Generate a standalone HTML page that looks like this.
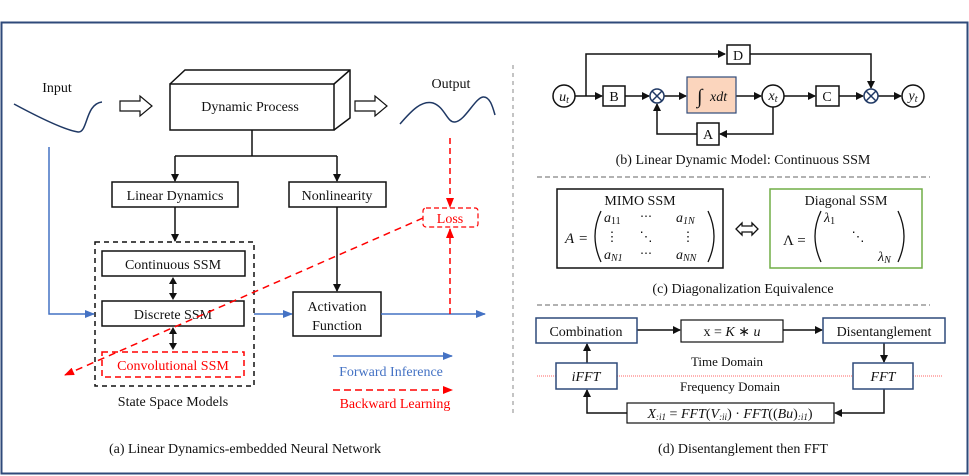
<!DOCTYPE html>
<html><head><meta charset="utf-8"><style>
html,body{margin:0;padding:0;background:#fff}
svg{display:block}
text{font-family:"Liberation Serif",serif;fill:#111}
.m{font-style:italic}
</style></head><body>
<svg width="969" height="476" viewBox="0 0 969 476" xmlns="http://www.w3.org/2000/svg">
<defs>
<marker id="ak" markerWidth="8" markerHeight="8" refX="7" refY="4" orient="auto" markerUnits="userSpaceOnUse"><path d="M0,0 L8,4 L0,8 z" fill="#111"/></marker>
<marker id="ab" markerWidth="10" markerHeight="8" refX="9" refY="4" orient="auto" markerUnits="userSpaceOnUse"><path d="M0,0 L10,4 L0,8 z" fill="#4472c4"/></marker>
<marker id="ar" markerWidth="10" markerHeight="8" refX="9" refY="4" orient="auto" markerUnits="userSpaceOnUse"><path d="M0,0 L10,4 L0,8 z" fill="#ff0000"/></marker>
</defs>
<rect x="1.5" y="22.5" width="966" height="451" fill="none" stroke="#2f4a7a" stroke-width="2"/>
<line x1="513" y1="65" x2="513" y2="415" stroke="#888" stroke-width="1" stroke-dasharray="4,4"/>

<!-- Panel a -->
<text x="57" y="92" font-size="14" text-anchor="middle">Input</text>
<path d="M14,104 C40,118 65,130 78,132 C88,133 85,104 102,102" fill="none" stroke="#1f3864" stroke-width="1.5"/>
<path d="M120,101 H140 V96 L152,106 L140,116 V111 H120 z" fill="#fff" stroke="#111" stroke-width="1.2"/>
<path d="M170,84 L185,70 H350 V118 L334,130" fill="none" stroke="#111" stroke-width="1.5"/>
<line x1="334" y1="84" x2="350" y2="70" stroke="#111" stroke-width="1.5"/>
<rect x="170" y="84" width="164" height="46" fill="#fff" stroke="#111" stroke-width="1.5"/>
<text x="250" y="111" font-size="14" text-anchor="middle">Dynamic Process</text>
<path d="M355,101 H375 V96 L387,106 L375,116 V111 H355 z" fill="#fff" stroke="#111" stroke-width="1.2"/>
<text x="451" y="88" font-size="14" text-anchor="middle">Output</text>
<path d="M400,124 C412,110 422,100 433,103 C445,107 447,123 455,122 C465,121 475,98 483,97 C490,96 493,108 495,115" fill="none" stroke="#1f3864" stroke-width="1.5"/>
<path d="M252,130 V156 M175,156 H337" stroke="#111" stroke-width="1.5" fill="none"/>
<line x1="175" y1="156" x2="175" y2="181" stroke="#111" stroke-width="1.5" marker-end="url(#ak)"/>
<line x1="337" y1="156" x2="337" y2="181" stroke="#111" stroke-width="1.5" marker-end="url(#ak)"/>
<rect x="112" y="182" width="126" height="25" fill="#fff" stroke="#111" stroke-width="1.5"/>
<text x="175" y="200" font-size="14" text-anchor="middle">Linear Dynamics</text>
<rect x="289" y="182" width="97" height="25" fill="#fff" stroke="#111" stroke-width="1.5"/>
<text x="337" y="200" font-size="14" text-anchor="middle">Nonlinearity</text>
<line x1="175" y1="207" x2="175" y2="241" stroke="#111" stroke-width="1.5" marker-end="url(#ak)"/>
<rect x="95" y="242" width="159" height="144" fill="none" stroke="#111" stroke-width="1.5" stroke-dasharray="5,4"/>
<rect x="102" y="251" width="143" height="25" fill="#fff" stroke="#111" stroke-width="1.5"/>
<text x="173" y="269" font-size="14" text-anchor="middle">Continuous SSM</text>
<rect x="102" y="301" width="142" height="25" fill="#fff" stroke="#111" stroke-width="1.5"/>
<text x="173" y="319" font-size="14" text-anchor="middle">Discrete SSM</text>
<g fill="#111" stroke="#111" stroke-width="1.5">
<line x1="173" y1="280" x2="173" y2="297"/><path d="M169,284 L173,277 L177,284 z M169,293 L173,300 L177,293 z" stroke="none"/>
<line x1="173" y1="330" x2="173" y2="347"/><path d="M169,334 L173,327 L177,334 z M169,343 L173,350 L177,343 z" stroke="none"/>
</g>
<rect x="102" y="352" width="142" height="25" fill="none" stroke="#ff0000" stroke-width="1.5" stroke-dasharray="6,4"/>
<text x="173" y="370" font-size="14" text-anchor="middle" style="fill:#ff0000">Convolutional SSM</text>
<text x="173" y="406" font-size="14" text-anchor="middle">State Space Models</text>
<path d="M49,147 V314 H94" fill="none" stroke="#4472c4" stroke-width="1.5" marker-end="url(#ab)"/>
<line x1="254" y1="314" x2="292" y2="314" stroke="#4472c4" stroke-width="1.5" marker-end="url(#ab)"/>
<line x1="337" y1="207" x2="337" y2="291" stroke="#111" stroke-width="1.5" marker-end="url(#ak)"/>
<rect x="293" y="292" width="88" height="44" fill="#fff" stroke="#111" stroke-width="1.5"/>
<text x="337" y="311" font-size="14" text-anchor="middle">Activation</text>
<text x="337" y="330" font-size="14" text-anchor="middle">Function</text>
<line x1="381" y1="314" x2="485" y2="314" stroke="#4472c4" stroke-width="1.5" marker-end="url(#ab)"/>
<line x1="450" y1="314" x2="450" y2="229" stroke="#ff0000" stroke-width="1.5" stroke-dasharray="6,4" marker-end="url(#ar)"/>
<line x1="450" y1="138" x2="450" y2="207" stroke="#ff0000" stroke-width="1.5" stroke-dasharray="6,4" marker-end="url(#ar)"/>
<rect x="423" y="208" width="55" height="19" rx="3" fill="#fff" stroke="#ff0000" stroke-width="1.2" stroke-dasharray="5,3"/>
<text x="450" y="223" font-size="14" text-anchor="middle" style="fill:#ff0000">Loss</text>
<line x1="423" y1="218" x2="65" y2="375" stroke="#ff0000" stroke-width="1.5" stroke-dasharray="7,5" marker-end="url(#ar)"/>
<line x1="333" y1="356" x2="452" y2="356" stroke="#4472c4" stroke-width="1.5" marker-end="url(#ab)"/>
<text x="391" y="376" font-size="14" text-anchor="middle" style="fill:#4472c4">Forward Inference</text>
<line x1="333" y1="390" x2="452" y2="390" stroke="#ff0000" stroke-width="1.5" stroke-dasharray="7,4" marker-end="url(#ar)"/>
<text x="395" y="408" font-size="14" text-anchor="middle" style="fill:#ff0000">Backward Learning</text>
<text x="245" y="453" font-size="14" text-anchor="middle">(a) Linear Dynamics-embedded Neural Network</text>

<!-- Panel b -->
<g stroke="#111" stroke-width="1.5" fill="none">
<line x1="575" y1="96" x2="602" y2="96" marker-end="url(#ak)"/>
<path d="M586,96 V54 H725" marker-end="url(#ak)"/>
<path d="M750,54 H871 V88" marker-end="url(#ak)"/>
<line x1="625" y1="96" x2="649" y2="96" marker-end="url(#ak)"/>
<line x1="664" y1="96" x2="686" y2="96" marker-end="url(#ak)"/>
<line x1="736" y1="96" x2="761" y2="96" marker-end="url(#ak)"/>
<line x1="784" y1="96" x2="815" y2="96" marker-end="url(#ak)"/>
<line x1="839" y1="96" x2="863" y2="96" marker-end="url(#ak)"/>
<line x1="878" y1="96" x2="901" y2="96" marker-end="url(#ak)"/>
<path d="M773,107 V134 H720" marker-end="url(#ak)"/>
<path d="M697,134 H657 V104" marker-end="url(#ak)"/>
</g>
<circle cx="564" cy="96" r="11" fill="#fff" stroke="#111" stroke-width="1.5"/>
<text x="564" y="101" font-size="14" text-anchor="middle" class="m">u<tspan font-size="10" dy="2">t</tspan></text>
<rect x="603" y="86" width="22" height="20" fill="#fff" stroke="#111" stroke-width="1.5"/>
<text x="614" y="101" font-size="14" text-anchor="middle">B</text>
<rect x="727" y="45" width="23" height="19" fill="#fff" stroke="#111" stroke-width="1.5"/>
<text x="738" y="60" font-size="14" text-anchor="middle">D</text>
<g stroke="#1f3864" stroke-width="1.5" fill="#fff">
<circle cx="657" cy="96" r="7"/><path d="M652,91 L662,101 M662,91 L652,101"/>
<circle cx="871" cy="96" r="7"/><path d="M866,91 L876,101 M876,91 L866,101"/>
</g>
<rect x="687" y="77" width="49" height="36" fill="#fbd5bd" stroke="#2f4a7a" stroke-width="1.2"/>
<text x="697" y="103" font-size="20" class="m">∫</text>
<text x="710" y="101" font-size="14" class="m">xdt</text>
<circle cx="773" cy="96" r="11" fill="#fff" stroke="#111" stroke-width="1.5"/>
<text x="773" y="100" font-size="14" text-anchor="middle" class="m">x<tspan font-size="10" dy="2">t</tspan></text>
<rect x="816" y="86" width="23" height="20" fill="#fff" stroke="#111" stroke-width="1.5"/>
<text x="827" y="101" font-size="14" text-anchor="middle">C</text>
<circle cx="913" cy="96" r="11" fill="#fff" stroke="#111" stroke-width="1.5"/>
<text x="913" y="100" font-size="14" text-anchor="middle" class="m">y<tspan font-size="10" dy="2">t</tspan></text>
<rect x="697" y="123" width="22" height="22" fill="#fff" stroke="#111" stroke-width="1.5"/>
<text x="708" y="139" font-size="14" text-anchor="middle">A</text>
<text x="743" y="164" font-size="14" text-anchor="middle">(b) Linear Dynamic Model: Continuous SSM</text>
<line x1="537" y1="177" x2="930" y2="177" stroke="#666" stroke-width="1" stroke-dasharray="5,3"/>

<!-- Panel c -->
<rect x="557" y="189" width="166" height="79" fill="none" stroke="#111" stroke-width="1.5"/>
<text x="640" y="205" font-size="14" text-anchor="middle">MIMO SSM</text>
<text x="565" y="243" font-size="15" class="m">A</text><text x="579" y="243" font-size="15">=</text>
<path d="M601,211 Q589,236 601,262" fill="none" stroke="#111" stroke-width="1.3"/>
<path d="M708,211 Q720,236 708,262" fill="none" stroke="#111" stroke-width="1.3"/>
<text x="604" y="222" font-size="14" class="m">a<tspan font-size="10" dy="2" font-style="normal">11</tspan></text>
<text x="646" y="220" font-size="12" text-anchor="middle">⋯</text>
<text x="676" y="222" font-size="14" class="m">a<tspan font-size="10" dy="2">1N</tspan></text>
<text x="612" y="241" font-size="13" text-anchor="middle">⋮</text>
<text x="646" y="241" font-size="13" text-anchor="middle">⋱</text>
<text x="688" y="241" font-size="13" text-anchor="middle">⋮</text>
<text x="604" y="259" font-size="14" class="m">a<tspan font-size="10" dy="2">N1</tspan></text>
<text x="646" y="257" font-size="12" text-anchor="middle">⋯</text>
<text x="676" y="259" font-size="14" class="m">a<tspan font-size="10" dy="2">NN</tspan></text>
<path d="M736,229 L742,223 V226 H752 V223 L758,229 L752,235 V232 H742 V235 z" fill="#fff" stroke="#111" stroke-width="1.3"/>
<rect x="770" y="189" width="152" height="79" fill="none" stroke="#70ad47" stroke-width="1.5"/>
<text x="846" y="205" font-size="14" text-anchor="middle">Diagonal SSM</text>
<text x="783" y="245" font-size="15">Λ =</text>
<path d="M821,211 Q809,236 821,262" fill="none" stroke="#111" stroke-width="1.3"/>
<path d="M898,211 Q910,236 898,262" fill="none" stroke="#111" stroke-width="1.3"/>
<text x="824" y="222" font-size="14" class="m">λ<tspan font-size="10" dy="2" font-style="normal">1</tspan></text>
<text x="858" y="241" font-size="13" text-anchor="middle">⋱</text>
<text x="878" y="261" font-size="14" class="m">λ<tspan font-size="10" dy="2">N</tspan></text>
<text x="743" y="293" font-size="14" text-anchor="middle">(c) Diagonalization Equivalence</text>
<line x1="537" y1="305" x2="930" y2="305" stroke="#666" stroke-width="1" stroke-dasharray="5,3"/>

<!-- Panel d -->
<line x1="537" y1="376" x2="943" y2="376" stroke="#ff6666" stroke-width="1" stroke-dasharray="1,1"/>
<g stroke="#111" stroke-width="1.5" fill="none">
<line x1="637" y1="330" x2="680" y2="330" marker-end="url(#ak)"/>
<line x1="783" y1="330" x2="822" y2="330" marker-end="url(#ak)"/>
<line x1="884" y1="343" x2="884" y2="362" marker-end="url(#ak)"/>
<path d="M884,389 V413 H835" marker-end="url(#ak)"/>
<path d="M627,413 H587 V390" marker-end="url(#ak)"/>
<line x1="587" y1="363" x2="587" y2="344" marker-end="url(#ak)"/>
</g>
<rect x="536" y="318" width="101" height="25" fill="#fff" stroke="#2f4a7a" stroke-width="1.5"/>
<text x="586" y="336" font-size="14" text-anchor="middle">Combination</text>
<rect x="681" y="320" width="102" height="22" fill="#fff" stroke="#111" stroke-width="1.2"/>
<text x="732" y="336" font-size="14" text-anchor="middle">x = <tspan class="m">K</tspan> ∗ <tspan class="m">u</tspan></text>
<rect x="823" y="318" width="122" height="25" fill="#fff" stroke="#2f4a7a" stroke-width="1.5"/>
<text x="884" y="336" font-size="14" text-anchor="middle">Disentanglement</text>
<rect x="556" y="363" width="61" height="26" fill="#fff" stroke="#2f4a7a" stroke-width="1.5"/>
<text x="586" y="381" font-size="14" text-anchor="middle" class="m">iFFT</text>
<rect x="853" y="363" width="60" height="26" fill="#fff" stroke="#2f4a7a" stroke-width="1.5"/>
<text x="883" y="381" font-size="14" text-anchor="middle" class="m">FFT</text>
<text x="727" y="366" font-size="13" text-anchor="middle">Time Domain</text>
<text x="730" y="391" font-size="13" text-anchor="middle">Frequency Domain</text>
<rect x="627" y="403" width="207" height="20" fill="#fff" stroke="#111" stroke-width="1.2"/>
<text x="730" y="418" font-size="14" text-anchor="middle"><tspan class="m">X</tspan><tspan font-size="9" dy="2" class="m">:i1</tspan><tspan dy="-2"> = </tspan><tspan class="m">FFT</tspan>(<tspan class="m">V</tspan><tspan font-size="9" dy="2" class="m">:ii</tspan><tspan dy="-2">) · </tspan><tspan class="m">FFT</tspan>((<tspan class="m">Bu</tspan>)<tspan font-size="9" dy="2" class="m">:i1</tspan><tspan dy="-2">)</tspan></text>
<text x="743" y="453" font-size="14" text-anchor="middle">(d) Disentanglement then FFT</text>
</svg>
</body></html>
